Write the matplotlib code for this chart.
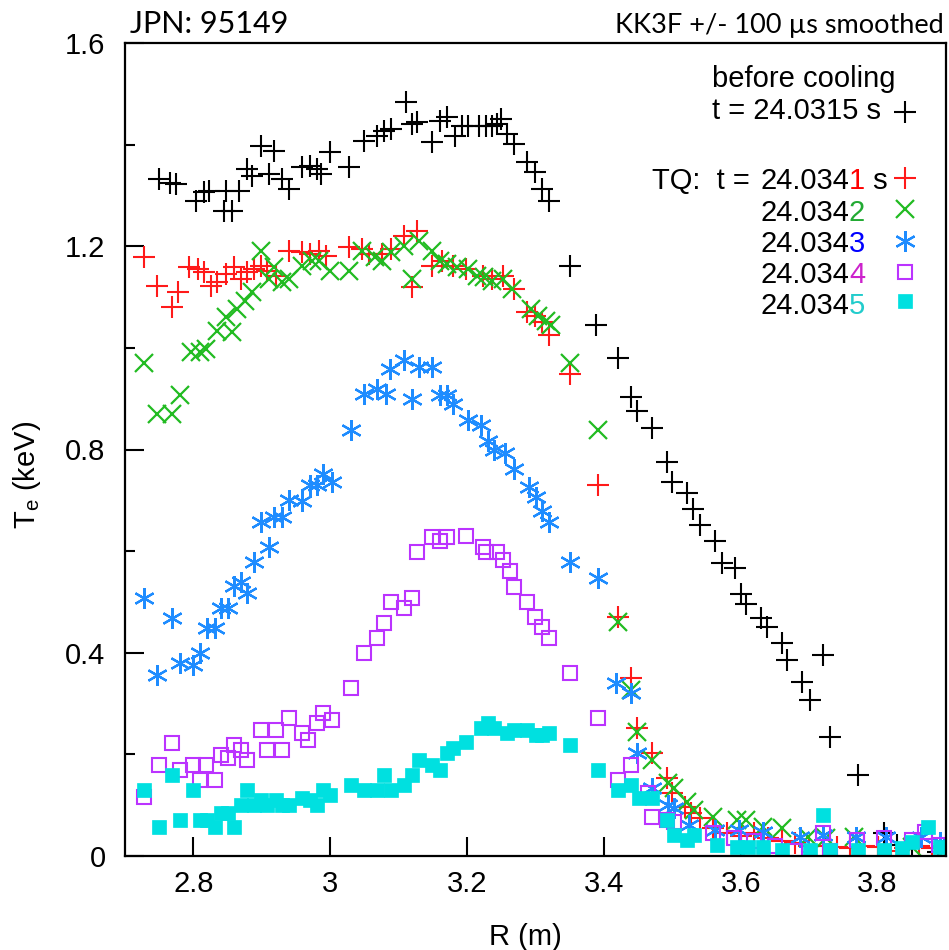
import matplotlib
matplotlib.use("Agg")
import matplotlib.pyplot as plt
from matplotlib import font_manager

# ---------------- data (R in m, Te in keV) ----------------
before_R = [2.750, 2.766, 2.775, 2.804, 2.816, 2.823, 2.848, 2.845, 2.857, 2.867,
            2.879, 2.886, 2.899, 2.918, 2.911, 2.930, 2.940, 2.959, 2.970, 2.981,
            2.987, 2.999, 3.028, 3.050, 3.069, 3.079, 3.089, 3.110, 3.120, 3.127,
            3.149, 3.160, 3.170, 3.182, 3.193, 3.201, 3.218, 3.228, 3.237, 3.243,
            3.250, 3.259, 3.269, 3.288, 3.299, 3.309, 3.320, 3.350, 3.389, 3.420,
            3.440, 3.449, 3.470, 3.492, 3.499, 3.521, 3.530, 3.540, 3.562, 3.572,
            3.591, 3.601, 3.608, 3.630, 3.638, 3.660, 3.668, 3.689, 3.701, 3.720,
            3.730, 3.771, 3.810, 3.828, 3.850, 3.888]
before_Te = [1.332, 1.325, 1.322, 1.289, 1.306, 1.308, 1.308, 1.269, 1.269, 1.308,
             1.352, 1.338, 1.397, 1.387, 1.342, 1.332, 1.312, 1.356, 1.358, 1.352,
             1.342, 1.385, 1.356, 1.407, 1.417, 1.427, 1.431, 1.484, 1.440, 1.444,
             1.405, 1.446, 1.454, 1.417, 1.436, 1.436, 1.436, 1.436, 1.436, 1.440,
             1.450, 1.421, 1.401, 1.366, 1.346, 1.312, 1.289, 1.161, 1.046, 0.981,
             0.904, 0.875, 0.843, 0.776, 0.737, 0.715, 0.682, 0.652, 0.619, 0.577,
             0.567, 0.516, 0.495, 0.469, 0.451, 0.420, 0.386, 0.343, 0.307, 0.396,
             0.234, 0.160, 0.045, 0.022, 0.018, 0.008]

tq1_R = [2.728, 2.747, 2.768, 2.777, 2.794, 2.806, 2.816, 2.826, 2.835, 2.848,
         2.860, 2.870, 2.879, 2.889, 2.899, 2.908, 2.921, 2.940, 2.959, 2.970,
         2.984, 2.994, 3.028, 3.047, 3.057, 3.076, 3.089, 3.108, 3.127, 3.120,
         3.149, 3.164, 3.179, 3.199, 3.223, 3.237, 3.252, 3.269, 3.288, 3.299,
         3.310, 3.320, 3.350, 3.391, 3.420, 3.440, 3.449, 3.470, 3.492, 3.499,
         3.518, 3.528, 3.540, 3.559, 3.580, 3.600, 3.620, 3.640, 3.660, 3.680,
         3.700, 3.720, 3.740, 3.760, 3.780, 3.800, 3.820, 3.840, 3.860, 3.880]
tq1_Te = [1.178, 1.121, 1.080, 1.109, 1.159, 1.155, 1.149, 1.121, 1.129, 1.145,
          1.159, 1.135, 1.149, 1.155, 1.161, 1.151, 1.141, 1.190, 1.188, 1.184,
          1.190, 1.180, 1.198, 1.194, 1.184, 1.184, 1.194, 1.220, 1.230, 1.119,
          1.161, 1.170, 1.161, 1.155, 1.141, 1.135, 1.141, 1.115, 1.070, 1.062,
          1.050, 1.025, 0.948, 0.731, 0.471, 0.351, 0.252, 0.203, 0.154, 0.124,
          0.097, 0.085, 0.075, 0.055, 0.045, 0.040, 0.045, 0.035, 0.030, 0.025,
          0.020, 0.020, 0.018, 0.015, 0.020, 0.018, 0.010, 0.015, 0.020, 0.015]

tq2_R = [2.728, 2.747, 2.769, 2.780, 2.797, 2.809, 2.819, 2.834, 2.857, 2.848,
         2.863, 2.875, 2.886, 2.899, 2.911, 2.918, 2.929, 2.940, 2.959, 2.973,
         2.984, 2.999, 3.028, 3.047, 3.065, 3.076, 3.089, 3.108, 3.119, 3.130,
         3.149, 3.160, 3.170, 3.185, 3.201, 3.215, 3.225, 3.237, 3.252, 3.266,
         3.294, 3.303, 3.316, 3.323, 3.350, 3.391, 3.420, 3.440, 3.449, 3.470,
         3.493, 3.503, 3.522, 3.532, 3.559, 3.594, 3.608, 3.632, 3.660, 3.698,
         3.725, 3.766, 3.851, 3.895]
tq2_Te = [0.971, 0.869, 0.869, 0.908, 0.991, 0.991, 0.997, 1.033, 1.031, 1.060,
          1.076, 1.092, 1.109, 1.190, 1.135, 1.159, 1.129, 1.135, 1.161, 1.170,
          1.170, 1.151, 1.151, 1.190, 1.178, 1.170, 1.188, 1.200, 1.135, 1.210,
          1.190, 1.170, 1.165, 1.159, 1.155, 1.141, 1.139, 1.131, 1.135, 1.115,
          1.076, 1.062, 1.052, 1.046, 0.971, 0.839, 0.461, 0.327, 0.244, 0.189,
          0.144, 0.134, 0.106, 0.091, 0.077, 0.071, 0.071, 0.057, 0.055, 0.037,
          0.035, 0.037, 0.018, 0.008]

tq3_R = [2.728, 2.747, 2.768, 2.780, 2.799, 2.809, 2.820, 2.831, 2.841, 2.850,
         2.860, 2.870, 2.879, 2.889, 2.911, 2.899, 2.918, 2.929, 2.940, 2.959,
         2.970, 2.980, 2.989, 3.002, 3.031, 3.050, 3.069, 3.082, 3.088, 3.108,
         3.120, 3.130, 3.149, 3.160, 3.170, 3.179, 3.201, 3.221, 3.230, 3.240,
         3.255, 3.269, 3.291, 3.301, 3.310, 3.320, 3.350, 3.391, 3.418, 3.440,
         3.449, 3.470, 3.493, 3.503, 3.525, 3.562, 3.598, 3.632, 3.686, 3.720,
         3.769, 3.813, 3.864, 3.891]
tq3_Te = [0.508, 0.357, 0.469, 0.380, 0.376, 0.400, 0.449, 0.449, 0.489, 0.489,
          0.532, 0.540, 0.518, 0.579, 0.609, 0.658, 0.668, 0.668, 0.701, 0.698,
          0.731, 0.731, 0.751, 0.737, 0.839, 0.910, 0.920, 0.910, 0.958, 0.977,
          0.899, 0.962, 0.962, 0.908, 0.908, 0.889, 0.859, 0.849, 0.816, 0.800,
          0.794, 0.761, 0.727, 0.707, 0.678, 0.658, 0.579, 0.548, 0.341, 0.321,
          0.203, 0.134, 0.100, 0.095, 0.061, 0.051, 0.051, 0.047, 0.037, 0.041,
          0.037, 0.037, 0.037, 0.028]

tq4_R = [2.728, 2.750, 2.769, 2.780, 2.799, 2.809, 2.819, 2.831, 2.841, 2.850,
         2.860, 2.870, 2.879, 2.899, 2.908, 2.921, 2.930, 2.940, 2.958, 2.967,
         2.980, 2.989, 3.002, 3.031, 3.050, 3.069, 3.079, 3.089, 3.108, 3.119,
         3.127, 3.148, 3.160, 3.170, 3.199, 3.223, 3.228, 3.243, 3.252, 3.262,
         3.269, 3.288, 3.299, 3.310, 3.320, 3.350, 3.391, 3.420, 3.440, 3.465,
         3.471, 3.492, 3.503, 3.560, 3.590, 3.620, 3.650, 3.680, 3.700, 3.720,
         3.730, 3.770, 3.810, 3.850, 3.870, 3.890]
tq4_Te = [0.116, 0.179, 0.223, 0.169, 0.179, 0.150, 0.179, 0.150, 0.199, 0.193,
          0.219, 0.209, 0.189, 0.248, 0.209, 0.248, 0.209, 0.272, 0.242, 0.229,
          0.262, 0.282, 0.268, 0.331, 0.400, 0.430, 0.459, 0.499, 0.489, 0.508,
          0.599, 0.627, 0.619, 0.627, 0.629, 0.609, 0.599, 0.599, 0.583, 0.560,
          0.530, 0.500, 0.471, 0.451, 0.430, 0.361, 0.272, 0.150, 0.179, 0.124,
          0.077, 0.071, 0.067, 0.045, 0.035, 0.030, 0.020, 0.010, -0.005, 0.045,
          0.010, 0.032, 0.035, 0.032, 0.048, 0.022]

tq5_R = [2.728, 2.750, 2.769, 2.780, 2.799, 2.809, 2.820, 2.831, 2.841, 2.850,
         2.860, 2.870, 2.879, 2.889, 2.899, 2.908, 2.921, 2.930, 2.940, 2.959,
         2.970, 2.980, 2.989, 2.999, 3.031, 3.050, 3.069, 3.079, 3.089, 3.108,
         3.120, 3.130, 3.149, 3.160, 3.170, 3.179, 3.199, 3.221, 3.230, 3.240,
         3.259, 3.269, 3.288, 3.301, 3.310, 3.320, 3.350, 3.391, 3.420, 3.440,
         3.452, 3.471, 3.492, 3.503, 3.521, 3.532, 3.565, 3.594, 3.610, 3.632,
         3.660, 3.701, 3.720, 3.730, 3.771, 3.810, 3.835, 3.851, 3.873, 3.891]
tq5_Te = [0.130, 0.057, 0.160, 0.071, 0.130, 0.071, 0.071, 0.057, 0.085, 0.085,
          0.057, 0.100, 0.130, 0.100, 0.110, 0.100, 0.110, 0.100, 0.100, 0.114,
          0.110, 0.100, 0.130, 0.120, 0.140, 0.130, 0.130, 0.160, 0.130, 0.140,
          0.160, 0.189, 0.179, 0.169, 0.203, 0.213, 0.225, 0.252, 0.262, 0.252,
          0.242, 0.248, 0.248, 0.238, 0.238, 0.242, 0.219, 0.169, 0.130, 0.140,
          0.114, 0.114, 0.071, 0.041, 0.032, 0.041, 0.022, 0.018, 0.018, 0.018,
          0.012, 0.012, 0.081, 0.012, 0.012, 0.012, 0.016, 0.028, 0.057, 0.018]

y_ticks = [0, 0.4, 0.8, 1.2, 1.6]
y_ticklabels = ["0", "0.4", "0.8", "1.2", "1.6"]
y_minor = [0.2, 0.6, 1.0, 1.4]
x_ticks = [2.8, 3.0, 3.2, 3.4, 3.6, 3.8]
x_ticklabels = ["2.8", "3", "3.2", "3.4", "3.6", "3.8"]

# ---------------- styles ----------------
C_BLACK = "black"
C_RED = "#ff1a1a"
C_GREEN = "#22bb22"
C_BLUE = "#1e8cff"
C_MAG = "#bb33ff"
C_CYAN = "#00e0e0"

plt.rcParams["font.family"] = ["Liberation Sans", "DejaVu Sans"]
FS = 21

fig = plt.figure(figsize=(9.49, 9.50), dpi=100)
ax = fig.add_axes([125 / 949, 1 - 856 / 950, (946 - 125) / 949, (856 - 43) / 950])

asterisk = (6, 2, 0)

ax.plot(before_R, before_Te, ls="none", marker="+", ms=16, mew=1.5, color=C_BLACK)
ax.plot(tq1_R, tq1_Te, ls="none", marker="+", ms=16, mew=1.5, color=C_RED)
ax.plot(tq2_R, tq2_Te, ls="none", marker="x", ms=12.5, mew=1.6, color=C_GREEN)
ax.plot(tq3_R, tq3_Te, ls="none", marker=asterisk, ms=15, mew=1.6, color=C_BLUE)
ax.plot(tq4_R, tq4_Te, ls="none", marker="s", ms=9.5, mew=1.5, mfc="none", mec=C_MAG)
ax.plot(tq5_R, tq5_Te, ls="none", marker="s", ms=9.5, mew=0.5, color=C_CYAN)

ax.set_xlim(2.7, 3.9)
ax.set_ylim(0, 1.6)
ax.set_xticks(x_ticks)
ax.set_xticklabels(x_ticklabels)
ax.set_yticks(y_ticks)
ax.set_yticklabels(y_ticklabels)
ax.set_yticks(y_minor, minor=True)
ax.tick_params(axis="both", which="major", direction="in", length=14, width=1.5,
               labelsize=FS, pad=10)
ax.tick_params(axis="y", which="major", pad=14)
ax.tick_params(axis="y", which="minor", direction="in", length=7, width=1.5)
for s in ax.spines.values():
    s.set_linewidth(1.6)

fig.text(27 / 949, 1 - 475 / 950, r"T$_\mathregular{e}$ (keV)", rotation=90,
         ha="center", va="center", fontsize=FS)
fig.text(525 / 949, 1 - 937 / 950, "R (m)", ha="center", va="center", fontsize=FS)

# header (narrow, Calibri-like font if available)
def _has(name):
    try:
        font_manager.findfont(font_manager.FontProperties(family=name),
                              fallback_to_default=False)
        return True
    except Exception:
        return False

if _has("Liberation Sans Narrow"):
    hdr_family = ["Liberation Sans Narrow", "DejaVu Sans"]
    left_fs, right_fs = 24, 24
else:
    hdr_family = ["Lato", "DejaVu Sans"]
    left_fs, right_fs = 22, 19.5

fig.text(130 / 949, 1 - 33 / 950, "JPN: 95149", ha="left", va="baseline",
         fontsize=left_fs, family=hdr_family)
fig.text(944 / 949, 1 - 33 / 950, "KK3F +/- 100 \u00b5s smoothed", ha="right",
         va="baseline", fontsize=right_fs, family=hdr_family)

# legend-like annotation
def fx(px):
    return (px - 125) / 821.0

def fy(py):
    return (856 - py) / 813.0

ax.text(fx(712), fy(87), "before cooling", fontsize=FS, ha="left", va="baseline",
        transform=ax.transAxes)
ax.text(fx(712), fy(119), "t = 24.0315 s", fontsize=FS, ha="left", va="baseline",
        transform=ax.transAxes)
ax.plot([fx(905)], [fy(112)], transform=ax.transAxes, marker="+", ms=16, mew=1.5,
        color=C_BLACK, clip_on=False)

rows = [("1", "red", fy(189), fy(178), dict(marker="+", ms=16, mew=1.5, color=C_RED)),
        ("2", "#22aa33", fy(221), fy(209), dict(marker="x", ms=12.5, mew=1.6, color=C_GREEN)),
        ("3", "#0000ff", fy(252), fy(241), dict(marker=asterisk, ms=15, mew=1.6, color=C_BLUE)),
        ("4", "#cc22cc", fy(283), fy(272), dict(marker="s", ms=9.5, mew=1.5, mfc="none", mec=C_MAG)),
        ("5", "#22cccc", fy(314), fy(301), dict(marker="s", ms=9.5, mew=0.5, color=C_CYAN))]

for digit, dcol, ybase, ymark, mk in rows:
    t = ax.text(fx(760), ybase, "24.034", fontsize=FS, ha="left", va="baseline",
                transform=ax.transAxes)
    d = ax.annotate(digit, xy=(1, 0), xycoords=t, ha="left", va="bottom",
                    fontsize=FS, color=dcol)
    if digit == "1":
        ax.text(fx(758), ybase, "TQ:  t = ", fontsize=FS, ha="right", va="baseline",
                transform=ax.transAxes)
        ax.annotate(" s", xy=(1, 0), xycoords=d, ha="left", va="bottom", fontsize=FS)
    ax.plot([fx(905)], [ymark], transform=ax.transAxes, ls="none", clip_on=False, **mk)

fig.savefig("out.png", dpi=100)
